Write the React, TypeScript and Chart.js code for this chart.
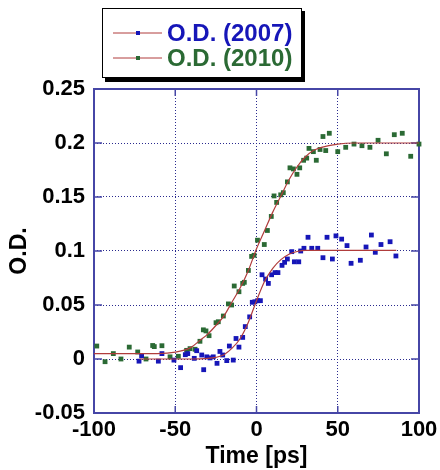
import React, { useEffect, useRef } from 'react';
import { Chart, registerables } from 'chart.js';
Chart.register(...registerables);

// O.D. (2007) measured points
const t2007 = [-72.3, -70.7, -60.4, -58.2, -50.8, -46.7, -43.8, -42.3, -38.3, -36.8, -33.7, -32.5, -30.6, -28.6, -26.6, -24.3, -22.5, -20.8, -18.3, -16.7, -14.3, -12.6, -10.8, -8.5, -6.9, -4.2, -2.6, -1.0, 0.7, 2.4, 3.4, 5.6, 7.3, 9.3, 11.4, 13.2, 15.7, 17.3, 19.0, 21.7, 23.3, 26.0, 27.2, 29.2, 31.7, 34.0, 37.7, 40.9, 43.4, 46.7, 48.9, 52.4, 55.7, 58.2, 63.9, 67.4, 70.7, 73.1, 76.6, 82.2, 85.8];
const od2007 = [-0.002, 0.003, -0.002, 0.005, -0.001, -0.008, 0.004, 0.005, 0.0006, 0.0077, 0.0037, -0.0099, 0.002, 0.001, 0.002, -0.004, 0.007, 0.0037, -0.0015, 0.012, -0.001, 0.019, 0.011, 0.020, 0.030, 0.039, 0.0525, 0.053, 0.054, 0.054, 0.078, 0.074, 0.070, 0.078, 0.080, 0.080, 0.0867, 0.0895, 0.0926, 0.0994, 0.090, 0.090, 0.100, 0.1025, 0.1127, 0.1025, 0.1025, 0.0938, 0.1127, 0.0926, 0.114, 0.111, 0.105, 0.0886, 0.0914, 0.1037, 0.1148, 0.0988, 0.106, 0.1086, 0.0954];

// O.D. (2010) measured points
const t2010 = [-98.3, -93.2, -88.1, -83.4, -78.3, -73.1, -68.0, -63.9, -62.9, -58.2, -53.2, -48.1, -43.0, -40.9, -37.8, -34.8, -32.7, -31.1, -29.2, -24.9, -23.5, -20.4, -17.3, -15.3, -13.7, -10.8, -8.5, -7.5, -5.0, -3.0, -1.5, 0.6, 4.8, 6.7, 9.1, 10.8, 12.4, 14.9, 16.5, 19.0, 20.6, 22.7, 24.9, 26.6, 29.0, 30.9, 32.3, 35.0, 36.8, 39.1, 40.9, 42.6, 44.8, 50.0, 54.9, 60.0, 64.9, 69.8, 74.8, 79.9, 84.8, 89.7, 94.9, 100];
const od2010 = [0.012, -0.0025, 0.005, 0.0, 0.011, 0.0065, 0.0, 0.0125, 0.0115, 0.0123, 0.002, 0.0025, 0.008, 0.0096, 0.009, 0.0164, 0.027, 0.026, 0.0216, 0.0336, 0.0345, 0.0398, 0.051, 0.050, 0.0676, 0.0623, 0.070, 0.071, 0.082, 0.095, 0.096, 0.110, 0.106, 0.119, 0.132, 0.151, 0.145, 0.152, 0.154, 0.164, 0.177, 0.176, 0.171, 0.177, 0.184, 0.186, 0.195, 0.192, 0.184, 0.194, 0.206, 0.193, 0.209, 0.192, 0.196, 0.199, 0.1975, 0.196, 0.2025, 0.190, 0.2077, 0.209, 0.1877, 0.199];

// fitted curves
const fitT2007 = [-72, -40, -30, -25, -20, -15, -10, -5, 0, 5, 10, 15, 20, 25, 30, 40, 86];
const fit2007 = [0, 0, 0.0005, 0.0015, 0.004, 0.010, 0.019, 0.034, 0.054, 0.072, 0.084, 0.092, 0.097, 0.0995, 0.1005, 0.1005, 0.1005];
const fitT2010 = [-100, -70, -55, -45, -40, -35, -30, -25, -20, -15, -10, -5, 0, 5, 10, 15, 20, 25, 30, 35, 40, 50, 60, 80, 100];
const fit2010 = [0.005, 0.005, 0.0055, 0.008, 0.011, 0.017, 0.023, 0.031, 0.040, 0.053, 0.066, 0.082, 0.102, 0.119, 0.136, 0.151, 0.166, 0.178, 0.187, 0.193, 0.196, 0.199, 0.2, 0.2, 0.2];

const xTickValues = [-100, -50, 0, 50, 100];
const xTickLabels = ['-100', '-50', '0', '50', '100'];
const yTickValues = [-0.05, 0, 0.05, 0.1, 0.15, 0.2, 0.25];
const yTickLabels = ['-0.05', '0', '0.05', '0.1', '0.15', '0.2', '0.25'];
const legendLabels = ['O.D. (2007)', 'O.D. (2010)'];

const FONT = '"Liberation Sans", Arial, sans-serif';
const BLUE = '#1616b8';
const GREEN = '#2b6a34';
const FIT = '#b03c3c';
const FRAME = '#4646a6';
const GRID = '#2a2a8e';

const zip = (a: number[], b: number[]) => a.map((x, i) => ({ x, y: b[i] }));

const framePlugin = {
  id: 'frame',
  beforeDatasetsDraw(chart: any) {
    const { ctx, chartArea: a, scales } = chart;
    ctx.save();
    ctx.strokeStyle = FRAME;
    ctx.lineWidth = 1.5;
    ctx.beginPath();
    xTickValues.forEach((v) => {
      const p = scales.x.getPixelForValue(v);
      ctx.moveTo(p, a.top); ctx.lineTo(p, a.top + 7);
      ctx.moveTo(p, a.bottom); ctx.lineTo(p, a.bottom - 7);
    });
    yTickValues.forEach((v) => {
      const p = scales.y.getPixelForValue(v);
      ctx.moveTo(a.left, p); ctx.lineTo(a.left + 8, p);
      ctx.moveTo(a.right, p); ctx.lineTo(a.right - 8, p);
    });
    ctx.stroke();
    ctx.lineWidth = 2;
    ctx.strokeRect(a.left, a.top, a.right - a.left, a.bottom - a.top);
    ctx.restore();
  },
};

const legendPlugin = {
  id: 'boxLegend',
  afterDraw(chart: any) {
    const { ctx } = chart;
    const x = 102, y = 8, w = 200, h = 70;
    ctx.save();
    ctx.fillStyle = '#000';
    ctx.fillRect(x + 3, y + 3, w, h + 1);
    ctx.fillStyle = '#fff';
    ctx.fillRect(x, y, w, h);
    ctx.strokeStyle = '#000';
    ctx.lineWidth = 1;
    ctx.strokeRect(x + 0.5, y + 0.5, w - 1, h - 1);
    const rows = [
      { label: legendLabels[0], color: BLUE, yy: 33 },
      { label: legendLabels[1], color: GREEN, yy: 58 },
    ];
    rows.forEach((r) => {
      ctx.strokeStyle = FIT;
      ctx.lineWidth = 1;
      ctx.beginPath();
      ctx.moveTo(113, r.yy); ctx.lineTo(162, r.yy);
      ctx.stroke();
      ctx.fillStyle = r.color;
      ctx.fillRect(136, r.yy - 2, 4, 4);
      ctx.font = `bold 24px ${FONT}`;
      ctx.textBaseline = 'middle';
      ctx.textAlign = 'left';
      ctx.fillText(r.label, 167, r.yy + 1);
    });
    ctx.restore();
  },
};

export default function App() {
  const ref = useRef<HTMLCanvasElement | null>(null);
  useEffect(() => {
    if (!ref.current) return;
    const chart = new Chart(ref.current, {
      type: 'scatter',
      data: {
        datasets: [
          {
            label: 'fit2007', data: zip(fitT2007, fit2007), showLine: true, pointRadius: 0,
            borderColor: FIT, borderWidth: 1.2, cubicInterpolationMode: 'monotone', clip: false,
          } as any,
          {
            label: 'fit2010', data: zip(fitT2010, fit2010), showLine: true, pointRadius: 0,
            borderColor: FIT, borderWidth: 1.2, cubicInterpolationMode: 'monotone', clip: false,
          } as any,
          {
            label: legendLabels[0], data: zip(t2007, od2007), pointStyle: 'rect', pointRadius: 3.4,
            pointBorderWidth: 0, backgroundColor: BLUE, borderColor: BLUE, clip: false,
          } as any,
          {
            label: legendLabels[1], data: zip(t2010, od2010), pointStyle: 'rect', pointRadius: 3.4,
            pointBorderWidth: 0, backgroundColor: GREEN, borderColor: GREEN, clip: false,
          } as any,
        ],
      },
      options: {
        animation: false,
        responsive: false,
        devicePixelRatio: 1,
        layout: { padding: { top: 89, right: 21, left: 0, bottom: 0 } },
        plugins: { legend: { display: false }, tooltip: { enabled: false } },
        scales: {
          x: {
            type: 'linear', min: -100, max: 100,
            afterBuildTicks: (s: any) => { s.ticks = xTickValues.map((v) => ({ value: v })); },
            afterFit: (s: any) => { s.height = 57; s.paddingLeft = 0; s.paddingRight = 0; },
            ticks: {
              callback: (_v: any, i: number) => xTickLabels[i],
              font: { family: FONT, size: 22, weight: 'bold' }, color: '#000', padding: 4, maxRotation: 0,
            },
            grid: {
              drawTicks: false, lineWidth: 1,
              color: (c: any) => (c.tick && (c.tick.value === -100 || c.tick.value === 100) ? 'rgba(0,0,0,0)' : GRID),
            },
            border: { display: false, dash: [1, 2] },
            title: {
              display: true, text: 'Time [ps]', color: '#000',
              font: { family: FONT, size: 23, weight: 'bold' }, padding: { top: 0, bottom: 0 },
            },
          },
          y: {
            type: 'linear', min: -0.05, max: 0.25,
            afterBuildTicks: (s: any) => { s.ticks = yTickValues.map((v) => ({ value: v })); },
            afterFit: (s: any) => { s.width = 94; s.paddingTop = 0; s.paddingBottom = 0; },
            ticks: {
              callback: (_v: any, i: number) => yTickLabels[i],
              font: { family: FONT, size: 22, weight: 'bold' }, color: '#000', padding: 9,
            },
            grid: {
              drawTicks: false, lineWidth: 1,
              color: (c: any) => (c.tick && (c.tick.value === -0.05 || c.tick.value === 0.25) ? 'rgba(0,0,0,0)' : GRID),
            },
            border: { display: false, dash: [1, 2] },
            title: {
              display: true, text: 'O.D.', color: '#000',
              font: { family: FONT, size: 23, weight: 'bold' }, padding: { top: 6, bottom: 0 },
            },
          },
        },
      } as any,
      plugins: [framePlugin, legendPlugin],
    });
    return () => chart.destroy();
  }, []);
  return (
    <div style={{ position: 'absolute', left: 0, top: 0, width: 440, height: 470, background: '#fff' }}>
      <canvas ref={ref} width={440} height={470} style={{ display: 'block' }} />
    </div>
  );
}
